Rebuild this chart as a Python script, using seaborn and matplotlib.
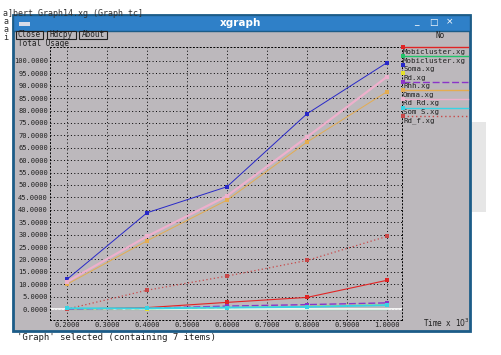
import numpy as np
import pandas as pd
import seaborn as sns
import matplotlib.pyplot as plt
from matplotlib.patches import Rectangle
from matplotlib.lines import Line2D

# data (Time x 10^3 vs Total Usage)
times = [0.2, 0.4, 0.6, 0.8, 1.0]
series_names = ["Mobicluster.xg", "Mobicluster.xg ", "Soma.xg", "Rd.xg", "Rhh.xg",
                "Omma.xg", "Rd Rd.xg", "Som S.xg", "Rd_f.xg"]
mobicluster_red = [0.0, 0.6, 2.7, 4.7, 11.6]
mobicluster_green = [0.0, 0.0, 0.0, 0.0, 0.0]
soma = [12.0, 38.8, 49.3, 78.7, 99.3]
rd = [0.0, 0.2, 0.6, 1.1, 1.8]
rhh = [0.0, 0.3, 1.2, 1.8, 2.5]
omma = [10.0, 27.5, 43.9, 67.3, 87.6]
rd_rd = [11.0, 29.3, 45.6, 69.3, 93.6]
som_s = [0.3, 0.3, 0.6, 0.9, 1.6]
rd_f = [0.0, 7.6, 13.3, 19.6, 29.3]
all_values = [mobicluster_red, mobicluster_green, soma, rd, rhh, omma, rd_rd, som_s, rd_f]

x_ticks = [0.2, 0.3, 0.4, 0.5, 0.6, 0.7, 0.8, 0.9, 1.0]
y_ticks = list(range(0, 101, 5))

colors = ["#e02424", "#22c46a", "#2828c8", "#e4e028", "#8a34c8",
          "#e4ac50", "#eeb0cc", "#38d4e4", "#c84848"]
dashes = ["", "", "", (4, 2), (5, 2), "", "", "", (1, 2)]
widths = [0.8, 0.8, 0.7, 1.0, 1.0, 0.7, 1.6, 1.4, 0.9]
zorders = [2, 1, 2, 2, 2, 2, 2, 3, 2]
msizes = [2.2, 0, 2.2, 2.2, 2.2, 2.2, 2.2, 2.2, 2.2]

rows = []
for name, vals in zip(series_names, all_values):
    for t, v in zip(times, vals):
        rows.append({"time": t, "usage": v, "series": name})
df = pd.DataFrame(rows)

W, H = 501, 355
BG = "#bcb8bc"
MONO = "DejaVu Sans Mono"

def fx(x):
    return x / W

def fy(y):
    return 1 - y / H

fig = plt.figure(figsize=(W / 100, H / 100), dpi=100)
fig.patch.set_facecolor("white")

# terminal text behind the window
fig.text(fx(3), fy(13), "a]bert Graph14.xg (Graph tc]", fontsize=6, family=MONO, color="#303030", va="center")
for yy, s in [(22, "a"), (30, "a"), (38, "i")]:
    fig.text(fx(3), fy(yy), s, fontsize=6, family=MONO, color="#303030", va="center")
fig.patches.append(Rectangle((fx(470), fy(212)), fx(16), 90 / H, transform=fig.transFigure,
                             facecolor="#e6e6e6", edgecolor="none", zorder=0))

# window body and title bar
fig.patches.append(Rectangle((fx(13), fy(331)), fx(457), 316 / H, transform=fig.transFigure,
                             facecolor=BG, edgecolor="#1c5c88", lw=2, zorder=1))
fig.patches.append(Rectangle((fx(13), fy(31)), fx(457), 16 / H, transform=fig.transFigure,
                             facecolor="#2f80c8", edgecolor="#1c5c88", lw=1, zorder=2))
fig.patches.append(Rectangle((fx(19), fy(26)), fx(11), 4 / H, transform=fig.transFigure,
                             facecolor="#d8dce8", edgecolor="none", zorder=3))
fig.text(fx(241), fy(23), "xgraph", fontsize=7.5, weight="bold", color="white",
         ha="center", va="center", zorder=4)
for xx, s in [(416, "_"), (433, "□"), (450, "×")]:
    fig.text(fx(xx), fy(22), s, fontsize=6.5, color="white", ha="center", va="center", zorder=4)

# button row
for x0, x1, label in [(16, 43, "Close"), (47, 76, "Hdcpy"), (79, 107, "About")]:
    fig.patches.append(Rectangle((fx(x0), fy(39)), fx(x1 - x0), 8 / H, transform=fig.transFigure,
                                 facecolor=BG, edgecolor="#202020", lw=0.8, zorder=3))
    fig.text(fx((x0 + x1) / 2), fy(34.5), label, fontsize=5.5, family=MONO, color="#202020",
             ha="center", va="center", zorder=4)
fig.text(fx(18), fy(43), "Total Usage", fontsize=5.5, family=MONO, color="#202020",
         va="center", zorder=2)
fig.text(fx(440), fy(36), "No", fontsize=5.5, family=MONO, color="#202020", ha="center",
         va="center", zorder=4)
fig.text(fx(446), fy(323), "Time x $10^3$", fontsize=5.5, family=MONO, color="#202020",
         ha="center", va="center", zorder=4)
fig.text(fx(17), fy(338), "'Graph' selected (containing 7 items)", fontsize=6.5, family=MONO,
         color="#202020", va="center", zorder=0)

# plotting area
ax = fig.add_axes([fx(50), fy(320), fx(352), 273 / H], zorder=5)
ax.set_facecolor(BG)
ax.axhline(0, color="white", lw=1.2, zorder=1.5)

palette = dict(zip(series_names, colors))
dash_map = dict(zip(series_names, dashes))
for name, lw, z, ms in zip(series_names, widths, zorders, msizes):
    sub = df[df["series"] == name]
    sns.lineplot(data=sub, x="time", y="usage", color=palette[name], lw=lw,
                 dashes=False, marker="s", markersize=ms, markeredgewidth=0,
                 ax=ax, legend=False, zorder=z)
    if dash_map[name]:
        ax.lines[-1].set_dashes(dash_map[name])

ax.set_xlim(0.1575, 1.0375)
ax.set_ylim(-4.4, 105.6)
ax.set_xticks(x_ticks)
ax.set_yticks(y_ticks)
ax.set_xticklabels([f"{v:.4f}" for v in x_ticks], family=MONO, fontsize=5, color="#202020")
ax.set_yticklabels([f"{v:.4f}" for v in y_ticks], family=MONO, fontsize=5, color="#202020")
ax.tick_params(length=0, pad=1.5)
ax.grid(True, color="black", linestyle=(0, (1, 2.5)), lw=0.7, zorder=0)
ax.set_axisbelow(True)
ax.set_xlabel("")
ax.set_ylabel("")
for sp in ax.spines.values():
    sp.set_linestyle((0, (1, 2.5)))
    sp.set_linewidth(0.7)
    sp.set_color("black")

# xgraph style legend at the right of the plot
for i, (name, c, d) in enumerate(zip(series_names, colors, dashes)):
    ly = 47.3 + 8.6 * i
    if name not in ("Soma.xg", "Rd.xg"):
        ln = Line2D([fx(403), fx(468)], [fy(ly), fy(ly)], transform=fig.transFigure,
                    color=c, lw=1.0, zorder=6)
        if d:
            ln.set_dashes(d)
        fig.lines.append(ln)
    fig.lines.append(Line2D([fx(403)], [fy(ly)], transform=fig.transFigure, color=c,
                            marker="s", markersize=2.2, markeredgewidth=0, zorder=7))
    fig.text(fx(403), fy(ly + 4.6), name.strip(), fontsize=5.3, family=MONO, color="#202020",
             va="center", zorder=6)

fig.savefig("out.png", dpi=100)
